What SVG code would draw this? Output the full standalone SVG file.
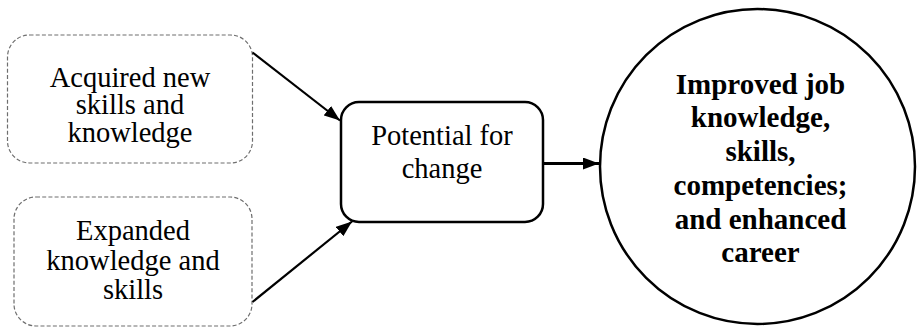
<svg xmlns="http://www.w3.org/2000/svg" width="917" height="330" viewBox="0 0 917 330">
  <style>
    .dashed { fill: #fff; stroke: #6e6e6e; stroke-width: 1.2; stroke-dasharray: 4 2.2; }
    .solid { fill: #fff; stroke: #000; stroke-width: 2.5; }
    .lbl { font-family: "Liberation Serif", "Times New Roman", serif; font-size: 28.5px; fill: #000; text-anchor: middle; }
    .bold { font-weight: bold; font-size: 29px; }
    .conn { stroke: #000; stroke-width: 2.2; fill: none; }
    .thick { stroke-width: 3.2; }
  </style>
  <defs>
    <marker id="head" viewBox="0 0 16 12" refX="16" refY="6" markerWidth="16" markerHeight="12" markerUnits="userSpaceOnUse" orient="auto">
      <path d="M0,0 L16,6 L0,12 Z" fill="#000"/>
    </marker>
  </defs>

  <rect width="917" height="330" fill="#fff"/>

  <g id="acquired">
    <rect class="dashed" x="7.5" y="35" width="245" height="128" rx="22"/>
    <text class="lbl" x="130" y="86.5">Acquired new</text>
    <text class="lbl" x="130" y="114">skills and</text>
    <text class="lbl" x="130" y="141.5">knowledge</text>
  </g>

  <g id="expanded">
    <rect class="dashed" x="14" y="197" width="238" height="129" rx="22"/>
    <text class="lbl" x="133" y="240">Expanded</text>
    <text class="lbl" x="133" y="269.5">knowledge and</text>
    <text class="lbl" x="133" y="298.5">skills</text>
  </g>

  <g id="potential">
    <rect class="solid" x="341" y="102" width="202" height="120" rx="18"/>
    <text class="lbl" x="442" y="145">Potential for</text>
    <text class="lbl" x="442" y="178">change</text>
  </g>

  <g id="outcome">
    <circle class="solid" cx="757.5" cy="166.5" r="157.5" stroke-width="3"/>
    <text class="lbl bold" x="760.5" y="93.5">Improved job</text>
    <text class="lbl bold" x="760.5" y="127">knowledge,</text>
    <text class="lbl bold" x="760.5" y="161">skills,</text>
    <text class="lbl bold" x="760.5" y="195">competencies;</text>
    <text class="lbl bold" x="760.5" y="228.5">and enhanced</text>
    <text class="lbl bold" x="760.5" y="262">career</text>
  </g>

  <g id="connectors">
    <line class="conn" x1="252.5" y1="52.5" x2="340" y2="120.5" marker-end="url(#head)"/>
    <line class="conn" x1="252.5" y1="302" x2="352" y2="221.5" marker-end="url(#head)"/>
    <line class="conn thick" x1="543" y1="163.5" x2="599" y2="163.5" marker-end="url(#head)"/>
  </g>
</svg>
